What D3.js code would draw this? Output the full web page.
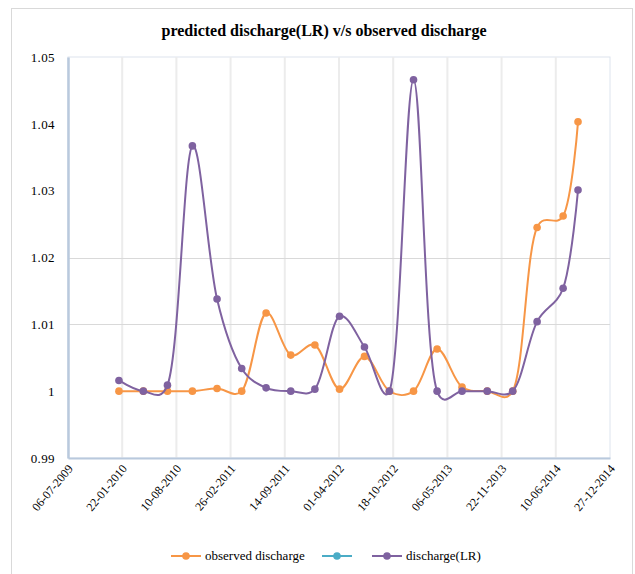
<!DOCTYPE html>
<html>
<head>
<meta charset="utf-8">
<script src="https://cdn.jsdelivr.net/npm/d3@7"></script>
<style>
  html, body { margin: 0; padding: 0; background: #fff; }
  svg { display: block; }
</style>
</head>
<body>
<svg id="chart" width="635" height="574"></svg>
<script>
// Sampling dates (dd-mm-yyyy)
const dates = [
  "10-01-2010", "10-04-2010", "08-07-2010", "08-10-2010", "07-01-2011",
  "08-04-2011", "07-07-2011", "06-10-2011", "03-01-2012", "03-04-2012",
  "04-07-2012", "04-10-2012", "01-01-2013", "29-03-2013", "29-06-2013",
  "30-09-2013", "02-01-2014", "02-04-2014", "07-07-2014", "31-08-2014"
];
const observed = [
  1.0000, 1.0000, 1.0000, 1.0000, 1.0004, 1.0000, 1.0117, 1.0054, 1.0069, 1.0003,
  1.0052, 1.0000, 1.0000, 1.0063, 1.0006, 1.0000, 1.0000, 1.0245, 1.0262, 1.0403
];
const predictedLR = [
  1.0016, 1.0000, 1.0009, 1.0367, 1.0138, 1.0034, 1.0005, 1.0000, 1.0003, 1.0112,
  1.0066, 1.0000, 1.0466, 1.0000, 1.0000, 1.0000, 1.0000, 1.0104, 1.0154, 1.0301
];
const yTicks = [0.99, 1, 1.01, 1.02, 1.03, 1.04, 1.05];
const yGridValues = [1.01, 1.02];
const xTickLabels = [
  "06-07-2009", "22-01-2010", "10-08-2010", "26-02-2011", "14-09-2011", "01-04-2012",
  "18-10-2012", "06-05-2013", "22-11-2013", "10-06-2014", "27-12-2014"
];
const seriesNames = ["observed discharge", "", "discharge(LR)"];
const seriesColors = ["#F79646", "#4BACC6", "#7F62A0"];
const title = "predicted discharge(LR) v/s observed discharge";

const parse = d3.timeParse("%d-%m-%Y");
const dateVals = dates.map(parse);
const tickDates = xTickLabels.map(parse);

const svg = d3.select("#chart");
const serif = "'Liberation Serif', 'Times New Roman', serif";

// Chart frame
svg.append("rect")
  .attr("x", 11.5).attr("y", 8.5).attr("width", 621).attr("height", 570)
  .attr("fill", "#fff").attr("stroke", "#d9d9d9").attr("stroke-width", 1);

const plot = { left: 68, right: 610, top: 57, bottom: 458 };

const x = d3.scaleTime()
  .domain([tickDates[0], tickDates[tickDates.length - 1]])
  .range([plot.left, plot.right]);
const y = d3.scaleLinear()
  .domain([0.99, 1.05])
  .range([plot.bottom, plot.top]);

// Title
svg.append("text")
  .attr("x", 324).attr("y", 36)
  .attr("text-anchor", "middle")
  .attr("font-family", serif)
  .attr("font-weight", "bold")
  .attr("font-size", 16)
  .attr("fill", "#000")
  .text(title);

// Plot area border
svg.append("rect")
  .attr("x", plot.left).attr("y", plot.top)
  .attr("width", plot.right - plot.left).attr("height", plot.bottom - plot.top)
  .attr("fill", "none").attr("stroke", "#dde4ee").attr("stroke-width", 1);

// Vertical gridlines at each date tick
svg.append("g")
  .selectAll("line")
  .data(tickDates.slice(1, -1))
  .join("line")
  .attr("x1", d => x(d)).attr("x2", d => x(d))
  .attr("y1", plot.top).attr("y2", plot.bottom)
  .attr("stroke", "#ececec").attr("stroke-width", 2);

// Horizontal gridlines
svg.append("g")
  .selectAll("line")
  .data(yGridValues)
  .join("line")
  .attr("x1", plot.left).attr("x2", plot.right)
  .attr("y1", d => Math.round(y(d)) + 0.5).attr("y2", d => Math.round(y(d)) + 0.5)
  .attr("stroke", "#d9d9d9").attr("stroke-width", 1);

// Y axis
const yAxis = svg.append("g")
  .attr("transform", `translate(${plot.left},0)`)
  .call(d3.axisLeft(y).tickValues(yTicks).tickSize(0).tickPadding(13)
    .tickFormat(d => d3.format("")(+d.toFixed(2))));
yAxis.select(".domain").attr("stroke", "#b9c9dd").attr("stroke-width", 2.5);
yAxis.selectAll("text")
  .attr("font-family", serif).attr("font-size", 13).attr("letter-spacing", 0.4)
  .attr("fill", "#000");

// X axis
const xAxis = svg.append("g")
  .attr("transform", `translate(0,${plot.bottom})`)
  .call(d3.axisBottom(x).tickValues(tickDates).tickSize(0).tickPadding(0)
    .tickFormat((d, i) => xTickLabels[i]));
xAxis.select(".domain").attr("stroke", "#b9c9dd").attr("stroke-width", 2);
xAxis.selectAll("text")
  .attr("font-family", serif).attr("font-size", 12).attr("fill", "#000")
  .attr("text-anchor", "end")
  .attr("dy", 0)
  .attr("transform", "translate(5,11) rotate(-50)");

// Series lines and markers
const series = [
  { values: observed, color: seriesColors[0] },
  { values: predictedLR, color: seriesColors[2] }
];
const line = d3.line()
  .x(d => x(d.date))
  .y(d => y(d.v))
  .curve(d3.curveCatmullRom.alpha(0.25));

series.forEach(s => {
  const pts = dateVals.map((dt, i) => ({ date: dt, v: s.values[i] }));
  const g = svg.append("g");
  g.append("path")
    .datum(pts)
    .attr("d", line)
    .attr("fill", "none")
    .attr("stroke", s.color)
    .attr("stroke-width", 2);
  g.selectAll("circle")
    .data(pts)
    .join("circle")
    .attr("cx", d => x(d.date))
    .attr("cy", d => y(d.v))
    .attr("r", 3.8)
    .attr("fill", s.color);
});

// Legend
const legendItems = [
  { name: seriesNames[0], color: seriesColors[0], x: 171 },
  { name: seriesNames[1], color: seriesColors[1], x: 322 },
  { name: seriesNames[2], color: seriesColors[2], x: 372 }
];
const legend = svg.append("g").attr("transform", "translate(0,556)");
legendItems.forEach(it => {
  const g = legend.append("g").attr("transform", `translate(${it.x},0)`);
  g.append("line").attr("x1", 0).attr("x2", 30).attr("y1", 0).attr("y2", 0)
    .attr("stroke", it.color).attr("stroke-width", 2);
  g.append("circle").attr("cx", 15).attr("cy", 0).attr("r", 3.8).attr("fill", it.color);
  g.append("text")
    .attr("x", 34).attr("y", 4)
    .attr("font-family", serif).attr("font-size", 13).attr("fill", "#000")
    .text(it.name);
});
</script>
</body>
</html>
